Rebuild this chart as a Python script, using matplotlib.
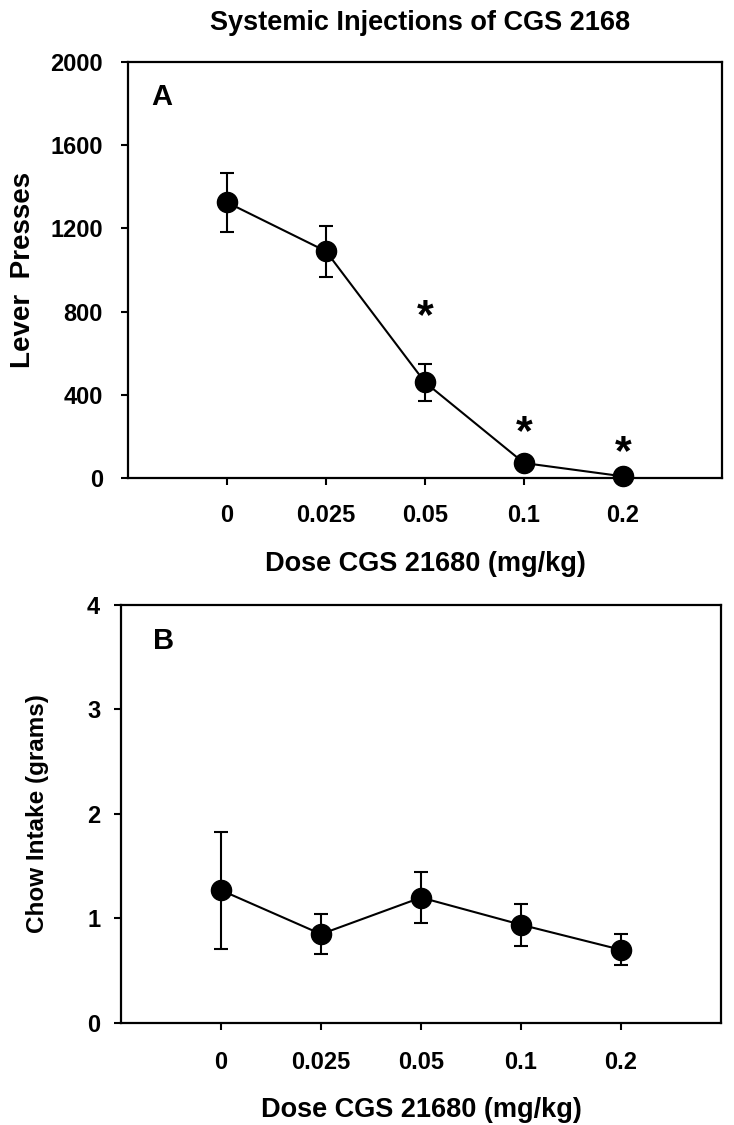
import matplotlib
matplotlib.use("Agg")
import matplotlib.pyplot as plt

doses = ["0", "0.025", "0.05", "0.1", "0.2"]

lever_mean = [1325, 1090, 460, 72, 8]
lever_sem = [140, 122, 89, 8, 6]
star_pos = [2, 3, 4]
star_y = [812, 255, 159]

chow_mean = [1.27, 0.85, 1.20, 0.94, 0.70]
chow_sem = [0.56, 0.19, 0.24, 0.20, 0.15]

plt.rcParams['font.family'] = ['Liberation Sans', 'DejaVu Sans']
plt.rcParams['font.weight'] = 'bold'

fig = plt.figure(figsize=(7.34, 11.25), dpi=100)
ax1 = fig.add_axes([0.1744, 0.5751, 0.8093, 0.3698])
ax2 = fig.add_axes([0.1649, 0.0907, 0.8174, 0.3716])

x = list(range(len(doses)))


def style(ax, ylim, yticks, ylabel, ypad, xlabelpad, xpad, ylabel_x, ylabel_size):
    ax.set_xlim(-1, 5)
    ax.set_ylim(*ylim)
    ax.set_xticks(x)
    ax.set_xticklabels(doses)
    ax.set_yticks(yticks)
    ax.tick_params(axis='x', direction='out', length=5, width=1.5, labelsize=17, pad=xpad)
    ax.tick_params(axis='y', direction='out', length=5, width=1.5, labelsize=17, pad=ypad)
    for s in ax.spines.values():
        s.set_linewidth(1.6)
    ax.set_xlabel("Dose CGS 21680 (mg/kg)", fontsize=19.5, fontweight='bold', labelpad=xlabelpad)
    ax.set_ylabel(ylabel, fontsize=ylabel_size, fontweight='bold')
    ax.yaxis.set_label_coords(ylabel_x, 0.5)
    for lab in ax.get_xticklabels() + ax.get_yticklabels():
        lab.set_fontweight('bold')


ax1.errorbar(x, lever_mean, yerr=lever_sem, color='black', marker='o', markersize=14.5,
             linewidth=1.5, elinewidth=1.5, capsize=5, capthick=1.5, clip_on=False, zorder=3)
for xi, yi in zip(star_pos, star_y):
    ax1.annotate("*", (xi, yi), xytext=(0, -13.5), textcoords='offset points',
                 ha='center', va='baseline', fontsize=31, fontweight='bold')
style(ax1, (0, 2000), [0, 400, 800, 1200, 1600, 2000], "Lever  Presses",
      ypad=13, xlabelpad=17, xpad=14, ylabel_x=-0.155, ylabel_size=20)
ax1.text(0.039, 0.916, "A", transform=ax1.transAxes, fontsize=21, fontweight='bold', va='center')
fig.text(420 / 734, 1 - 30 / 1125, "Systemic Injections of CGS 2168", ha='center', va='baseline',
         fontsize=19.5, fontweight='bold')

ax2.errorbar(x, chow_mean, yerr=chow_sem, color='black', marker='o', markersize=14.5,
             linewidth=1.5, elinewidth=1.5, capsize=5, capthick=1.5, zorder=3)
style(ax2, (0, 4), [0, 1, 2, 3, 4], "Chow Intake (grams)",
      ypad=10, xlabelpad=16, xpad=15.5, ylabel_x=-0.12, ylabel_size=17.5)
ax2.text(0.053, 0.914, "B", transform=ax2.transAxes, fontsize=21, fontweight='bold', va='center')

fig.savefig("out.png", dpi=100)
